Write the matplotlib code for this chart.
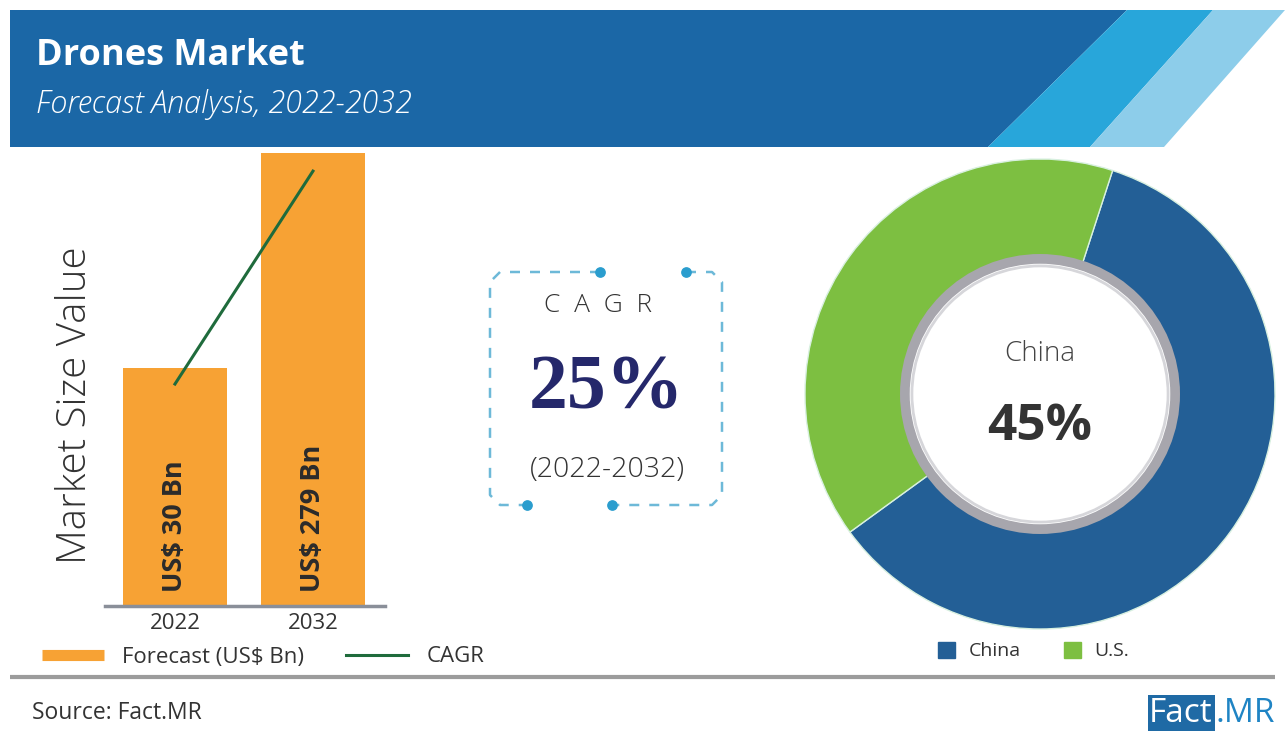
import matplotlib
matplotlib.use("Agg")
import matplotlib.pyplot as plt
from matplotlib.patches import Polygon, Rectangle, Circle
from matplotlib.lines import Line2D
from matplotlib.patches import Patch

plt.rcParams['font.family'] = ['Open Sans', 'DejaVu Sans']

# data
years = ["2022", "2032"]
market_labels = ["US$ 30 Bn", "US$ 279 Bn"]
bar_heights = [52.5, 100]      # bar heights as drawn (relative)
cagr_line = [49, 96]           # CAGR trend line, same scale
regions = ["China", "U.S."]
region_share = [60, 40]        # donut slices as drawn
cagr_text = "25%"
china_share_text = "45%"

W, H = 1285, 731
fig = plt.figure(figsize=(W / 100, H / 100), dpi=100)
fig.patch.set_facecolor("white")

def box(x0, y0, x1, y1):
    # pixel box (top-left origin) -> figure fraction
    return [x0 / W, (H - y1) / H, (x1 - x0) / W, (y1 - y0) / H]

# background / decoration axes in pixel coords
bg = fig.add_axes([0, 0, 1, 1], zorder=0)
bg.set_xlim(0, W)
bg.set_ylim(H, 0)
bg.axis("off")

bg.add_patch(Polygon([(10, 10), (1127, 10), (988, 147), (10, 147)], closed=True,
                     color="#1b67a6", lw=0))
bg.add_patch(Polygon([(1127, 10), (1213, 10), (1090, 147), (988, 147)], closed=True,
                     color="#28a6da", lw=0))
bg.add_patch(Polygon([(1213, 10), (1285, 10), (1164, 147), (1090, 147)], closed=True,
                     color="#8dcdea", lw=0))
bg.text(36, 56, "Drones Market", color="white", fontsize=26, fontweight="bold",
        va="center", ha="left")
bg.text(36, 104, "Forecast Analysis, 2022-2032", color="white", fontsize=22,
        style="italic", fontweight="light", va="center", ha="left")

# bottom rule and source
bg.plot([10, 1275], [677, 677], color="#9c9c9c", lw=3, solid_capstyle="butt")
bg.text(32, 713, "Source: Fact.MR", fontsize=16.5, color="#333333", va="center", ha="left")
bg.add_patch(Rectangle((1148, 695), 67, 36, color="#1f6aa5", lw=0))
bg.text(1181, 714, "Fact", fontsize=24, color="white", va="center", ha="center")
bg.text(1215, 714, ".MR", fontsize=24, color="#1f84c4", va="center", ha="left")

# CAGR box
dash = dict(color="#6db9d8", lw=1.8, ls=(0, (4, 4)))
bg.plot([600, 500, 490, 490, 500, 527], [272, 272, 282, 495, 505, 505], **dash)
bg.plot([686, 712, 722, 722, 712, 612], [272, 272, 282, 495, 505, 505], **dash)
bg.scatter([600, 686, 527, 612], [272, 272, 505, 505], s=45, color="#2a9dce", zorder=3)
bg.text(598, 306, "C  A  G  R", fontsize=19, color="#333333", ha="center", va="center",
        fontweight="light")
bg.text(606, 390, cagr_text, fontsize=56, color="#25286b", ha="center", va="center",
        fontweight="bold", family=["Liberation Serif", "DejaVu Serif"])
bg.text(607, 470, "(2022-2032)", fontsize=20.5, color="#333333", ha="center", va="center",
        fontweight="light")

# bar chart
ax = fig.add_axes(box(105, 153, 385, 606), zorder=1)
ax.patch.set_alpha(0)
x = [0, 1]
ax.bar(x, bar_heights, width=0.754, color="#f7a234", zorder=1)
ax.plot(x, cagr_line, color="#1f6b3c", lw=2.2, zorder=2)
ax.set_xlim(-0.507, 1.522)
ax.set_ylim(0, 100)
for xi, lab in zip(x, market_labels):
    ax.text(xi, 3, lab, rotation=90, ha="center", va="bottom", fontsize=19.5,
            fontweight="bold", color="#2b2b2b")
ax.set_xticks(x)
ax.set_xticklabels(years, fontsize=16, color="#333333")
ax.tick_params(axis="x", length=0, pad=5)
ax.set_yticks([])
for s in ["top", "right", "left"]:
    ax.spines[s].set_visible(False)
ax.spines["bottom"].set_color("#8a8f99")
ax.spines["bottom"].set_linewidth(2.5)
fig.text(76 / W, 1 - 405 / H, "Market Size Value", rotation=90, fontsize=29,
         color="#333333", ha="center", va="center", fontweight="light")

handles = [Line2D([], [], color="#f7a234", lw=8, solid_capstyle="butt"),
           Line2D([], [], color="#1f6b3c", lw=2.2)]
fig.legend(handles, ["Forecast (US$ Bn)", "CAGR"], ncol=2, frameon=False,
           loc="center left", bbox_to_anchor=(22 / W, 1 - 657 / H), fontsize=16,
           handlelength=2.8, handletextpad=0.8, columnspacing=1.9,
           labelcolor="#333333")

# donut
dx = fig.add_axes(box(805, 159, 1275, 629), zorder=1)
dx.patch.set_alpha(0)
wedges, _ = dx.pie(region_share, colors=["#235f96", "#7dbf41"], startangle=216,
                   radius=1, wedgeprops=dict(width=0.42, edgecolor="#d8f0e0", lw=1))
dx.add_patch(Circle((0, 0), 0.575, facecolor="white", edgecolor="#a7a6ad", lw=7, zorder=3))
dx.add_patch(Circle((0, 0), 0.545, facecolor="white", edgecolor="#d6d6da", lw=2, zorder=4))
dx.text(0, 0.17, "China", fontsize=20, color="#444444", ha="center", va="center",
        fontweight="light", zorder=5)
dx.text(0, -0.14, china_share_text, fontsize=37, fontweight="bold", color="#333333",
        ha="center", va="center", zorder=5)
dx.set_xlim(-1, 1)
dx.set_ylim(-1, 1)
dx.set_aspect("equal")
dx.axis("off")

fig.legend([Patch(color="#235f96"), Patch(color="#7dbf41")], regions, ncol=2,
           frameon=False, loc="center left", bbox_to_anchor=(920 / W, 1 - 651 / H),
           fontsize=14, handlelength=0.9, handleheight=0.9, handletextpad=0.7,
           columnspacing=2.2, labelcolor="#333333")

fig.savefig("out.png", dpi=100, facecolor="white")
